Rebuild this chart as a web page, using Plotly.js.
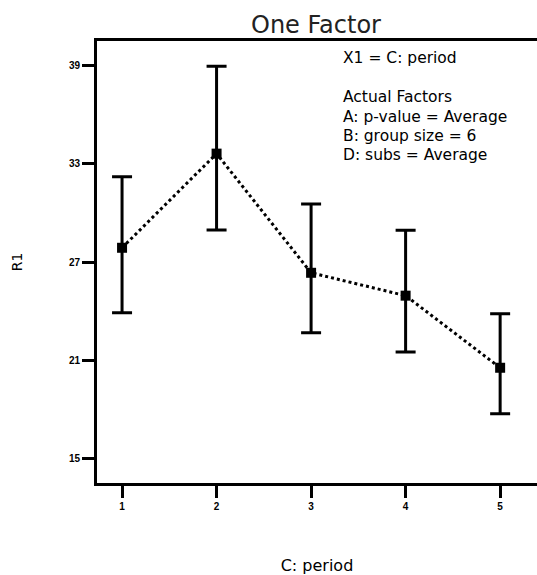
<!DOCTYPE html>
<html>
<head>
<meta charset="utf-8">
<script src="https://cdn.plot.ly/plotly-3.0.1.min.js"></script>
<style>html,body{margin:0;padding:0;background:#fff;}#chart{width:537px;height:575px;}</style>
</head>
<body>
<div id="chart"></div>
<script>
const period = [1, 2, 3, 4, 5];
const r1 = [27.87, 33.63, 26.34, 24.94, 20.53];
const upperErr = [4.35, 5.35, 4.21, 4.0, 3.3];
const lowerErr = [3.97, 4.67, 3.67, 3.45, 2.82];
const yTicks = [15, 21, 27, 33, 39];
const xTicks = [1, 2, 3, 4, 5];
const infoLines = ["X1 = C: period", "", "Actual Factors", "A: p-value = Average", "B: group size = 6", "D: subs = Average"];

const trace = {
  x: period,
  y: r1,
  type: 'scatter',
  mode: 'lines+markers',
  line: {color: '#000', width: 3, dash: 'dot'},
  marker: {symbol: 'square', size: 10, color: '#000'},
  error_y: {type: 'data', symmetric: false, array: upperErr, arrayminus: lowerErr,
            color: '#000', thickness: 3, width: 10},
  showlegend: false,
  hoverinfo: 'none'
};

const plotTop = 41, plotH = 442;
const annotations = infoLines.map((line, i) => ({
  text: line, xref: 'paper', yref: 'paper',
  x: (341 - 97) / 440, y: 1 - (58.5 + i * 19.35 - plotTop) / plotH,
  xanchor: 'left', yanchor: 'middle', align: 'left', showarrow: false,
  font: {size: 15.5, color: '#000', family: 'DejaVu Sans, sans-serif'}
})).filter(a => a.text !== '');

const layout = {
  width: 537, height: 575,
  margin: {l: 97, r: 0, t: plotTop, b: 92},
  paper_bgcolor: '#fff', plot_bgcolor: '#fff',
  font: {family: 'DejaVu Sans, sans-serif', color: '#000'},
  title: {text: 'One Factor', font: {size: 24, color: '#222', family: 'DejaVu Sans, sans-serif'},
          xref: 'container', x: 316/537, xanchor: 'center', yref: 'container', y: 1 - 25/575, yanchor: 'middle'},
  xaxis: {
    range: [0.735, 5.39], tickvals: xTicks, ticktext: xTicks.map(String),
    showgrid: false, zeroline: false, showline: true, linecolor: '#000', linewidth: 3, mirror: true,
    ticks: 'outside', ticklen: 12, tickwidth: 3, tickcolor: '#000',
    tickfont: {size: 10, family: 'Liberation Sans, Arial, sans-serif', weight: 'bold'},
    title: {text: 'C: period', font: {size: 16, family: 'DejaVu Sans, sans-serif'}, standoff: 50}
  },
  yaxis: {
    range: [13.48, 40.52], tickvals: yTicks, ticktext: yTicks.map(String),
    showgrid: false, zeroline: false, showline: true, linecolor: '#000', linewidth: 3,
    ticks: 'outside', ticklen: 12, tickwidth: 3, tickcolor: '#000',
    tickfont: {size: 10, family: 'Liberation Sans, Arial, sans-serif', weight: 'bold'},
    title: {text: 'R1', font: {size: 14, family: 'DejaVu Sans, sans-serif'}, standoff: 43}
  },
  annotations: annotations
};

Plotly.newPlot('chart', [trace], layout, {displayModeBar: false, staticPlot: true});
</script>
</body>
</html>
